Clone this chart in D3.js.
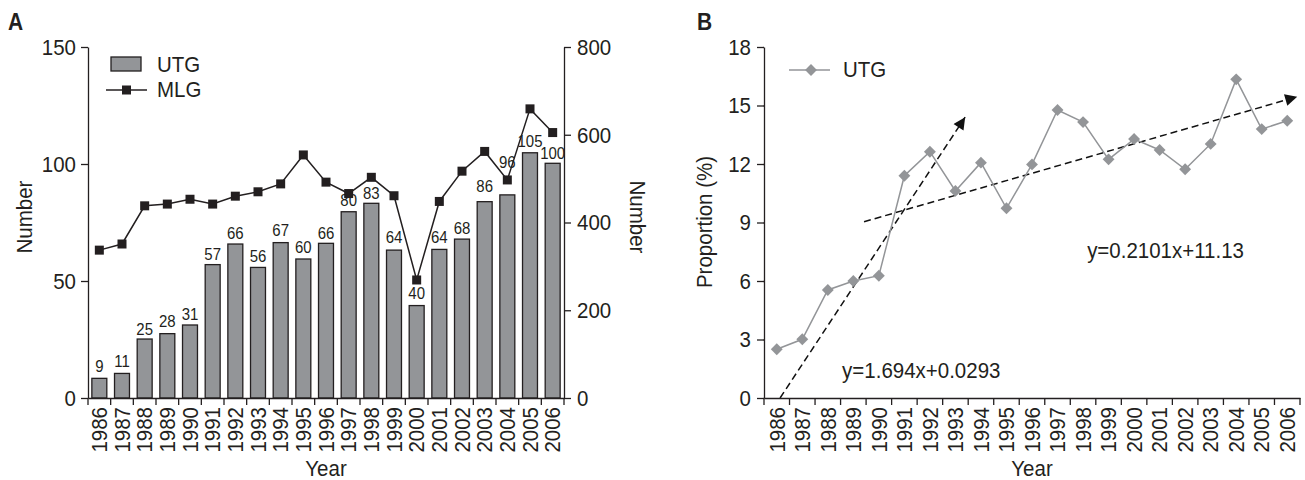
<!DOCTYPE html>
<html>
<head>
<meta charset="utf-8">
<script src="https://cdn.jsdelivr.net/npm/d3@7"></script>
<style>
  body { margin: 0; background: #fff; }
  text { font-family: "Liberation Sans", Arial, sans-serif; fill: #231f20; }
</style>
</head>
<body>
<svg id="chart" width="1305" height="480"></svg>
<script>
// ---- data ----
var years = ["1986", "1987", "1988", "1989", "1990", "1991", "1992", "1993", "1994", "1995", "1996",
  "1997", "1998", "1999", "2000", "2001", "2002", "2003", "2004", "2005", "2006"];
// bar heights as drawn in panel A
var utgCount = [8.4, 10.5, 25.2, 27.5, 31.2, 57, 65.8, 55.8, 66.4, 59.4, 66.1,
  79.6, 83.2, 63.2, 39.5, 63.5, 67.9, 83.9, 86.8, 104.8, 100.3];
// printed labels above bars
var utgLabels = [9, 11, 25, 28, 31, 57, 66, 56, 67, 60, 66, 80, 83, 64, 40, 64, 68, 86, 96, 105, 100];
var mlgCount = [337, 351, 438, 442, 453, 442, 460, 470, 488, 554, 492,
  466, 503, 461, 269, 448, 517, 562, 497, 659, 605];
var utgProportion = [2.5, 3.01, 5.54, 6.0, 6.27, 11.4, 12.63, 10.62, 12.07, 9.73, 11.98,
  14.77, 14.15, 12.24, 13.28, 12.72, 11.73, 13.03, 16.34, 13.79, 14.22];
var leftTicksA = [0, 50, 100, 150];
var rightTicksA = [0, 200, 400, 600, 800];
var ticksB = [0, 3, 6, 9, 12, 15, 18];
// trend arrows: [year, proportion] start and end, as drawn
var trendLines = [
  { from: [1986.13, 0], to: [1993.38, 14.4], label: "y=1.694x+0.0293", at: [1988.56, 1.03] },
  { from: [1989.42, 9.04], to: [2006.39, 15.45], label: "y=0.2101x+11.13", at: [1998.16, 7.18] }
];

var ink = "#231f20", gray = "#939598", font = '"Liberation Sans", Arial, sans-serif';
var fs = 20.5, stretch = 1.12;
var svg = d3.select("#chart");

// text glyphs in the figure are a little taller than wide
function label(g, x, y, str, size, extra) {
  return g.append("text")
    .attr("transform", "translate(" + x + "," + y + ")" + (extra || "") + " scale(1," + stretch + ")")
    .attr("font-size", size)
    .text(str);
}

function styleAxis(g) {
  g.attr("font-size", fs).attr("font-family", font).attr("color", ink);
  g.selectAll("path, line").attr("stroke-width", 1.3);
}

// ================= Panel A =================
var plotTop = 47, plotBottom = 398;
var xA = d3.scaleBand().domain(years).range([88, 564]).paddingInner(0.34).paddingOuter(0.17);
var yA = d3.scaleLinear().domain([0, 150]).range([plotBottom, plotTop]);
var yR = d3.scaleLinear().domain([0, 800]).range([plotBottom, plotTop]);

var a = svg.append("g");

label(a, 8, 30, "A", 21).attr("font-weight", "bold");

// bars
a.selectAll("rect.bar")
  .data(utgCount)
  .join("rect")
  .attr("class", "bar")
  .attr("x", (d, i) => xA(years[i]))
  .attr("y", d => yA(d))
  .attr("width", xA.bandwidth())
  .attr("height", d => plotBottom - yA(d))
  .attr("fill", gray)
  .attr("stroke", ink)
  .attr("stroke-width", 1.3);

// bar labels
a.selectAll("text.lab")
  .data(utgLabels)
  .join("text")
  .attr("class", "lab")
  .attr("transform", (d, i) => "translate(" + (xA(years[i]) + xA.bandwidth() / 2) + "," + (yA(d) - 5) + ") scale(1," + stretch + ")")
  .attr("text-anchor", "middle")
  .attr("font-size", 15)
  .text(d => d);

// MLG line
var lineA = d3.line()
  .x((d, i) => xA(years[i]) + xA.bandwidth() / 2)
  .y(d => yR(d));
a.append("path")
  .datum(mlgCount)
  .attr("d", lineA)
  .attr("fill", "none")
  .attr("stroke", ink)
  .attr("stroke-width", 1.5);
a.selectAll("rect.sq")
  .data(mlgCount)
  .join("rect")
  .attr("class", "sq")
  .attr("x", (d, i) => xA(years[i]) + xA.bandwidth() / 2 - 4.5)
  .attr("y", d => yR(d) - 4.5)
  .attr("width", 9)
  .attr("height", 9)
  .attr("fill", ink);

// axes
a.append("g").attr("transform", "translate(88,0)")
  .call(d3.axisLeft(yA).tickValues(leftTicksA).tickSize(7).tickPadding(5).tickSizeOuter(0))
  .call(styleAxis)
  .selectAll(".tick text").attr("transform", "scale(1," + stretch + ")");
a.append("g").attr("transform", "translate(564,0)")
  .call(d3.axisRight(yR).tickValues(rightTicksA).tickSize(7).tickPadding(6).tickSizeOuter(0))
  .call(styleAxis)
  .selectAll(".tick text").attr("transform", "scale(1," + stretch + ")");
var xAxisA = a.append("g").attr("transform", "translate(0," + plotBottom + ")")
  .call(d3.axisBottom(xA).tickSize(0).tickSizeOuter(0))
  .call(styleAxis);
xAxisA.selectAll(".tick text")
  .attr("transform", "rotate(-90) scale(1,1.08)")
  .attr("x", -9).attr("y", 0).attr("dy", "0.35em")
  .style("text-anchor", "end");
xAxisA.selectAll("line.bound")
  .data(d3.range(years.length + 1))
  .join("line")
  .attr("class", "bound")
  .attr("x1", i => 88 + i * xA.step()).attr("x2", i => 88 + i * xA.step())
  .attr("y1", 0).attr("y2", 7)
  .attr("stroke", ink).attr("stroke-width", 1.3);

a.append("text").attr("transform", "translate(32,217) rotate(-90) scale(1,1.08)")
  .attr("text-anchor", "middle").attr("font-size", fs).text("Number");
a.append("text").attr("transform", "translate(630,217) rotate(90) scale(1,1.08)")
  .attr("text-anchor", "middle").attr("font-size", fs).text("Number");
label(a, 326, 476, "Year", fs).attr("text-anchor", "middle");

// legend A
a.append("rect").attr("x", 111).attr("y", 57).attr("width", 30).attr("height", 14)
  .attr("fill", gray).attr("stroke", ink).attr("stroke-width", 1.3);
label(a, 157, 72, "UTG", fs);
a.append("line").attr("x1", 106).attr("x2", 147).attr("y1", 90).attr("y2", 90)
  .attr("stroke", ink).attr("stroke-width", 1.5);
a.append("rect").attr("x", 122).attr("y", 85.5).attr("width", 9).attr("height", 9).attr("fill", ink);
label(a, 157, 97, "MLG", fs);

// ================= Panel B =================
var xB = d3.scaleBand().domain(years).range([764, 1300]);
var xBl = d3.scaleLinear().domain([1985.5, 2006.5]).range([764, 1300]);
var yB = d3.scaleLinear().domain([0, 18]).range([plotBottom, plotTop]);

var b = svg.append("g");
label(b, 697, 30, "B", 21).attr("font-weight", "bold");

svg.append("defs").append("marker")
  .attr("id", "arrow")
  .attr("viewBox", "0 0 10 10")
  .attr("refX", 10).attr("refY", 5)
  .attr("markerUnits", "userSpaceOnUse")
  .attr("markerWidth", 14).attr("markerHeight", 12)
  .attr("orient", "auto")
  .append("path").attr("d", "M0,0 L10,5 L0,10 z").attr("fill", "#111");

// trend lines
b.selectAll("line.trend")
  .data(trendLines)
  .join("line")
  .attr("class", "trend")
  .attr("x1", d => xBl(d.from[0])).attr("y1", d => yB(d.from[1]))
  .attr("x2", d => xBl(d.to[0])).attr("y2", d => yB(d.to[1]))
  .attr("stroke", "#111").attr("stroke-width", 1.5)
  .attr("stroke-dasharray", "7,4")
  .attr("marker-end", "url(#arrow)");
b.selectAll("text.eq")
  .data(trendLines)
  .join("text")
  .attr("class", "eq")
  .attr("transform", d => "translate(" + xBl(d.at[0]) + "," + yB(d.at[1]) + ") scale(1," + stretch + ")")
  .attr("font-size", fs)
  .text(d => d.label);

// UTG proportion line
var lineB = d3.line()
  .x((d, i) => xBl(+years[i]))
  .y(d => yB(d));
b.append("path")
  .datum(utgProportion)
  .attr("d", lineB)
  .attr("fill", "none")
  .attr("stroke", gray)
  .attr("stroke-width", 1.5);
b.selectAll("path.dia")
  .data(utgProportion)
  .join("path")
  .attr("class", "dia")
  .attr("transform", (d, i) => "translate(" + xBl(+years[i]) + "," + yB(d) + ") rotate(45)")
  .attr("d", "M-4.2,-4.2H4.2V4.2H-4.2Z")
  .attr("fill", gray);

// axes B
b.append("g").attr("transform", "translate(764,0)")
  .call(d3.axisLeft(yB).tickValues(ticksB).tickSize(7).tickPadding(6).tickSizeOuter(0))
  .call(styleAxis)
  .selectAll(".tick text").attr("transform", "scale(1," + stretch + ")");
var xAxisB = b.append("g").attr("transform", "translate(0," + plotBottom + ")")
  .call(d3.axisBottom(xB).tickSize(0).tickSizeOuter(0))
  .call(styleAxis);
xAxisB.selectAll(".tick text")
  .attr("transform", "rotate(-90) scale(1,1.08)")
  .attr("x", -9).attr("y", 0).attr("dy", "0.35em")
  .style("text-anchor", "end");
xAxisB.selectAll("line.bound")
  .data(d3.range(years.length + 1))
  .join("line")
  .attr("class", "bound")
  .attr("x1", i => 764 + i * xB.step()).attr("x2", i => 764 + i * xB.step())
  .attr("y1", 0).attr("y2", 7)
  .attr("stroke", ink).attr("stroke-width", 1.3);

b.append("text").attr("transform", "translate(712,222) rotate(-90) scale(1,1.08)")
  .attr("text-anchor", "middle").attr("font-size", fs).text("Proportion (%)");
label(b, 1032, 476, "Year", fs).attr("text-anchor", "middle");

// legend B
b.append("line").attr("x1", 789).attr("x2", 830).attr("y1", 70).attr("y2", 70)
  .attr("stroke", gray).attr("stroke-width", 1.5);
b.append("path").attr("transform", "translate(811,70) rotate(45)")
  .attr("d", "M-4.2,-4.2H4.2V4.2H-4.2Z").attr("fill", gray);
label(b, 843, 77, "UTG", fs);
</script>
</body>
</html>
